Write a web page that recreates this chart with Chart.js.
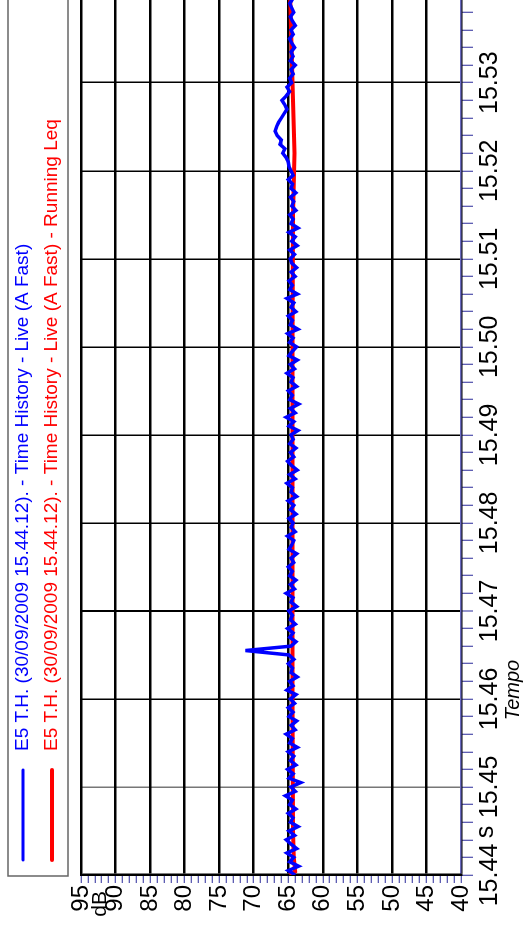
<!DOCTYPE html>
<html><head><meta charset="utf-8">
<script src="https://cdn.jsdelivr.net/npm/chart.js@4/dist/chart.umd.min.js"></script>
<style>
html,body{margin:0;padding:0;background:#fff;overflow:hidden;width:531px;height:929px}
#wrap{position:absolute;left:0;top:929px;width:929px;height:531px;transform-origin:0 0;transform:rotate(-90deg)}
</style></head><body>
<div id="wrap"><canvas id="c" width="929" height="531"></canvas></div>
<script>
// Niveaux (dB), un échantillon toutes les 0.5 ms à partir de 15.440 s
const liveStart = 15.44;
const liveStep = 0.0005;
const liveValues = [
  64.0,65.0,63.5,64.8,64.2,65.2,63.8,64.6,65.3,64.1,64.9,63.6,64.7,64.3,65.0,63.9,64.8,64.4,65.4,64.0,
  64.6,63.2,64.9,64.3,65.1,63.9,64.7,64.2,65.0,63.7,64.8,64.4,65.3,64.0,64.6,63.8,64.9,64.3,65.0,64.1,
  64.7,63.9,65.2,64.3,64.8,63.7,64.6,64.4,65.0,64.2,64.9,71.2,64.6,63.9,64.8,64.3,65.1,64.0,64.7,64.4,
  64.9,63.8,64.6,64.3,65.3,64.1,64.7,63.9,64.8,64.4,65.0,64.2,64.6,63.8,64.9,64.5,64.2,65.1,64.0,64.6,
  64.3,64.9,63.9,64.7,64.2,65.0,63.8,64.6,64.4,65.2,64.0,64.8,63.7,64.5,65.1,64.2,64.7,63.9,64.8,64.3,
  64.6,63.6,64.9,64.2,65.3,64.0,64.7,63.5,64.8,64.4,65.0,63.8,64.6,64.3,65.2,64.1,64.7,63.7,64.9,64.4,
  63.8,64.8,64.3,65.1,63.6,64.7,64.4,65.0,63.9,64.6,64.2,65.2,63.7,64.8,64.4,64.9,64.0,64.6,63.8,64.5,
  64.7,64.1,64.8,63.7,64.5,64.0,64.9,63.6,64.6,64.3,64.8,63.9,64.5,64.2,64.7,63.9,64.6,64.4,65.0,64.3,
  64.6,64.9,65.0,65.3,65.8,65.5,66.2,66.0,66.6,66.9,66.7,66.4,66.0,65.6,65.2,65.5,65.9,65.3,64.8,65.2,
  64.5,64.8,64.3,64.6,64.0,64.7,64.3,64.6,64.1,64.5,64.8,64.3,64.6,64.0,64.4,64.7,64.2,64.5,64.8,64.4];
const leqTimes = [15.440,15.4404,15.442,15.445,15.460,15.480,15.500,15.515,15.522,15.530,15.5394];
const leqValues = [64.8,64.0,64.2,64.3,64.4,64.4,64.4,64.3,64.1,64.4,64.7];
const legendLabels = ['E5 T.H. (30/09/2009 15.44.12). - Time History - Live (A Fast)',
  'E5 T.H. (30/09/2009 15.44.12). - Time History - Live (A Fast) - Running Leq'];
const legendColors = ['#0000ff', '#ff0000'];

const liveData = liveValues.map((v, i) => ({x: liveStart + i * liveStep, y: v}));
const leqData = leqTimes.map((t, i) => ({x: t, y: leqValues[i]}));
const FONT = 'Liberation Sans, Arial, sans-serif';

// legende, unités et titre d'axe dessinés à la main
const extras = {
  id: 'extras',
  afterDraw(chart) {
    const ctx = chart.ctx, a = chart.chartArea;
    ctx.save();
    ctx.strokeStyle = '#666'; ctx.lineWidth = 1.5;
    ctx.strokeRect(53, 8, 900, 60);
    legendLabels.forEach((txt, i) => {
      const y = 23 + i * 29;
      ctx.strokeStyle = legendColors[i]; ctx.lineWidth = i ? 4 : 3; ctx.lineCap = 'round';
      ctx.beginPath(); ctx.moveTo(69, y); ctx.lineTo(159, y); ctx.stroke();
      ctx.fillStyle = legendColors[i]; ctx.font = '19px ' + FONT;
      ctx.textBaseline = 'middle'; ctx.textAlign = 'left';
      ctx.fillText(txt, 178, y);
    });
    ctx.fillStyle = '#000'; ctx.font = 'italic 20px ' + FONT; ctx.textAlign = 'center';
    ctx.fillText('Tempo', 239, 513);
    ctx.font = '25px ' + FONT;
    ctx.fillText('s', 97, 486);
    ctx.font = '21px ' + FONT; ctx.textAlign = 'right';
    ctx.fillText('dB', 38, 100);
    ctx.strokeStyle = '#000'; ctx.lineWidth = 2;
    ctx.beginPath(); ctx.moveTo(a.left, a.top); ctx.lineTo(a.right, a.top); ctx.stroke();
    ctx.restore();
  }
};

new Chart(document.getElementById('c').getContext('2d'), {
  type: 'line',
  data: {
    datasets: [
      {label: legendLabels[0], data: liveData, borderColor: '#0000ff', borderWidth: 3.5, pointRadius: 0, tension: 0},
      {label: legendLabels[1], data: leqData, borderColor: '#ff0000', borderWidth: 4, pointRadius: 0, tension: 0}
    ]
  },
  options: {
    responsive: false, animation: false,
    layout: {padding: {top: 81, right: 0, left: 0, bottom: 0}},
    plugins: {legend: {display: false}, tooltip: {enabled: false}},
    scales: {
      x: {
        type: 'linear', min: 15.44, max: 15.5394,
        afterFit: s => { s.height = 70; },
        afterBuildTicks: s => { s.ticks = []; for (let i = 0; i <= 49; i++) s.ticks.push({value: +(15.44 + i * 0.002).toFixed(3)}); },
        ticks: {
          autoSkip: false, maxRotation: 0, color: '#000', font: {family: FONT, size: 25}, padding: 2,
          callback: v => (Math.round(v * 1000) % 10 === 0) ? v.toFixed(2) : ''
        },
        grid: {
          drawTicks: true, tickLength: 12,
          color: c => { const m = Math.round(c.tick.value * 1000); if (m % 10) return 'rgba(0,0,0,0)'; return m === 15450 ? '#777' : '#000'; },
          lineWidth: c => Math.round(c.tick.value * 1000) === 15470 ? 2 : 1.5,
          tickColor: '#2a2a9a', tickWidth: 1
        },
        border: {color: '#6a6ac0', width: 1.5}
      },
      y: {
        min: 40, max: 95,
        afterFit: s => { s.width = 54; },
        afterBuildTicks: s => { s.ticks = []; for (let v = 40; v <= 95; v++) s.ticks.push({value: v}); },
        ticks: {
          autoSkip: false, color: '#000', font: {family: FONT, size: 24}, padding: 2,
          callback: v => v % 5 === 0 ? String(v) : ''
        },
        grid: {
          tickLength: 8,
          color: c => c.tick.value % 5 ? 'rgba(0,0,0,0)' : '#000',
          lineWidth: 2.5, tickColor: '#2a2a9a', tickWidth: 1
        },
        border: {color: '#000', width: 2.5}
      }
    }
  },
  plugins: [extras]
});
</script>
</body></html>
